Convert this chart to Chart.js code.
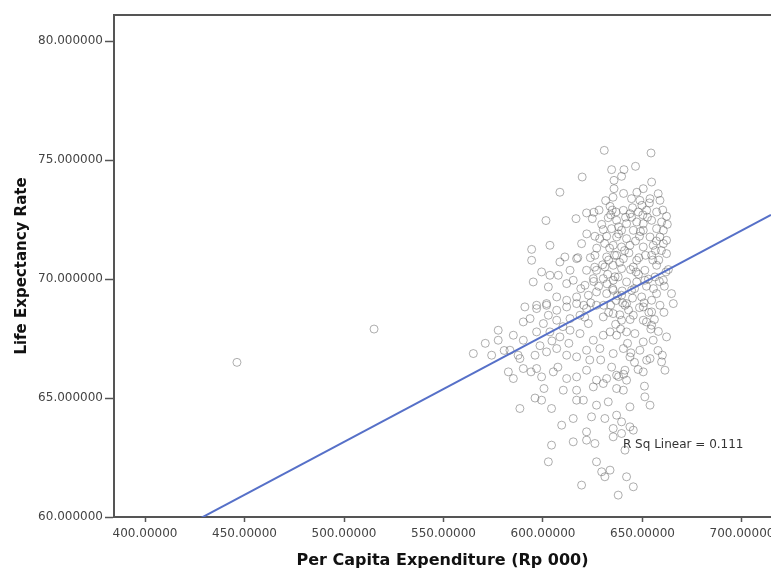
<!DOCTYPE html>
<html><head><meta charset="utf-8">
<script src="https://cdn.jsdelivr.net/npm/chart.js@4.4.1/dist/chart.umd.min.js"></script>
<style>html,body{margin:0;padding:0;background:#fff}#wrap{width:771px;height:570px;position:relative}</style>
</head><body><div id="wrap"><canvas id="c" width="771" height="570"></canvas></div>
<script>
// ---- data ----
const expenditure = [
446.2,515.1,
630.8,654.3,634.5,640.7,646.5,619.7,635.7,639.5,654.6,650.4,657.9,608.5,635.7,644.5,648.7,653.8,658.8,633.7,
636.7,640.4,643.7,647.9,652.1,657.1,662.1,601.5,616.6,621.9,625.6,624.8,632.8,637.0,642.0,647.1,650.4,654.6,
659.6,657.1,630.3,634.5,639.5,645.4,650.4,660.5,626.1,632.0,637.0,642.0,653.8,658.8,662.1,594.3,603.5,619.4,
635.3,639.5,643.7,650.4,655.4,660.5,594.3,608.5,611.0,616.9,626.1,632.0,637.0,640.4,647.1,654.6,662.1,599.3,
603.5,607.7,613.6,621.9,626.9,631.1,635.3,639.5,645.4,651.2,657.1,595.1,602.7,611.9,615.2,621.1,625.3,630.3,
635.3,637.8,642.0,647.1,651.2,656.3,660.5,590.9,596.8,601.8,606.9,611.9,616.9,622.8,626.9,632.0,635.3,639.5,
644.5,649.6,654.6,657.1,664.6,647.2,635.2,649.7,
596.8,601.8,606.9,611.9,616.9,621.9,626.9,642.0,650.4,654.6,658.8,665.5,
590.1,593.5,602.7,600.2,606.9,613.6,618.6,622.8,630.3,635.3,639.5,645.4,650.4,654.6,
577.5,577.5,585.1,590.1,596.8,603.5,608.5,613.6,618.6,625.3,630.3,633.7,637.0,642.0,646.2,650.4,655.4,662.1,
565.0,574.2,583.4,588.4,596.0,601.8,606.9,611.9,616.9,621.9,628.6,635.3,640.4,643.7,648.7,653.8,
582.6,585.1,590.1,596.8,599.3,605.2,611.9,616.9,621.9,626.9,632.0,637.0,641.2,642.0,650.4,652.1,659.6,661.3,
610.2,616.9,625.3,630.3,637.0,640.4,
588.4,599.3,604.3,616.9,620.3,626.9,632.8,643.7,651.2,653.8,
609.4,615.2,624.4,631.1,637.0,639.5,643.7,645.4,635.3,639.5,
604.3,615.2,621.9,621.9,626.1,635.3,641.2,
602.7,626.9,629.5,631.1,633.7,642.0,645.4,619.4,637.8,
633.5,636.0,638.5,641.0,644.0,646.5,632.5,635.0,637.5,640.0,643.0,630.5,628.0,633.0,636.5,639.0,645.0,648.0,
651.5,653.0,655.5,649.0,644.5,638.0,634.0,631.5,640.5,652.5,656.5,626.0,624.0,621.0,619.0,617.5,628.5,642.5,
646.0,634.5,638.0,640.5,629.0,623.5,613.0,610.0,604.5,598.5,594.0,587.5,580.5,571.0,600.5,596.0,607.5,648.5,
652.0,658.0,661.0,663.0,659.5,662.5,
629.5,631.0,633.0,634.8,636.2,638.0,639.8,641.5,643.2,645.0,646.8,648.5,650.2,652.0,653.5,655.2,657.0,658.5,660.2,661.8,
630.0,632.2,634.0,636.8,638.6,641.2,643.8,646.0,648.2,650.8,653.2,656.0,658.2,660.8,628.2,627.0,625.5,623.8,622.0,620.5,
644.2,647.8,651.0,654.2,657.8,660.0
];
const lifeExpectancy = [
66.5,67.9,
75.41,75.30,74.60,74.60,74.74,74.29,74.15,74.32,74.08,73.80,73.59,73.65,73.80,73.38,73.31,73.38,73.31,73.06,
72.82,72.89,72.75,72.82,72.89,72.82,72.64,72.46,72.54,72.78,72.81,72.54,72.58,72.47,72.33,72.40,72.33,72.47,
72.40,72.12,72.08,72.12,72.05,72.05,72.05,72.05,71.80,71.80,71.77,71.70,71.77,71.77,71.63,71.25,71.42,71.49,
71.42,71.35,71.42,71.35,71.42,71.49,70.79,70.72,70.93,70.86,71.00,70.93,71.00,70.86,70.79,71.00,71.07,70.30,
70.16,70.16,70.37,70.37,70.37,70.51,70.58,70.44,70.51,70.37,70.58,69.88,69.67,69.81,69.95,69.74,70.02,70.02,
69.95,70.09,69.88,69.88,69.95,70.09,69.95,68.83,68.90,68.97,69.25,69.11,69.25,69.32,69.46,69.39,69.53,69.32,
69.53,69.25,69.11,69.39,69.39,73.65,73.44,73.10,
68.76,68.90,68.69,68.83,68.97,68.76,68.90,68.97,68.83,68.62,68.90,68.97,
68.20,68.34,68.48,68.13,68.27,68.34,68.48,68.13,68.41,68.55,68.27,68.48,68.27,68.06,
67.85,67.43,67.64,67.43,67.78,67.78,67.57,67.85,67.71,67.43,67.64,67.78,67.64,67.78,67.71,67.36,67.43,67.57,
66.87,66.80,67.01,66.66,66.80,66.94,67.08,66.80,66.73,67.01,67.08,66.87,67.08,66.73,67.01,66.66,
66.10,65.82,66.24,66.24,65.89,66.10,65.82,65.89,66.17,65.75,65.82,65.96,66.17,65.75,66.10,66.59,66.52,66.17,
65.33,65.33,65.47,65.61,65.40,65.33,
64.56,64.91,64.56,64.91,64.91,64.70,64.84,64.63,65.05,64.70,
63.86,64.14,64.21,64.14,64.28,64.00,63.79,63.65,63.72,63.51,
63.02,63.16,63.58,63.23,63.09,63.37,62.81,
62.32,62.32,61.90,61.69,61.97,61.69,61.27,61.34,60.92,
71.3,71.0,70.7,71.2,70.4,71.6,70.2,69.6,69.3,69.0,68.7,68.9,69.7,68.6,68.1,67.9,69.2,70.2,
71.0,70.0,69.6,72.0,72.6,72.2,72.7,73.3,73.6,72.6,71.2,70.5,69.0,68.4,69.6,70.9,71.7,67.3,
66.5,66.3,65.9,66.0,66.6,66.6,67.3,68.0,67.4,67.2,66.1,66.8,67.0,67.3,65.4,65.0,66.3,68.8,
68.2,67.8,69.7,70.4,71.2,72.3,
72.3,71.5,70.8,72.9,70.1,71.9,69.5,72.6,71.1,73.0,70.3,71.8,72.7,69.7,73.2,70.8,71.6,69.9,72.9,70.3,
70.6,69.8,68.9,69.1,68.5,68.9,68.3,69.6,70.9,69.0,68.6,68.3,70.8,68.6,72.9,71.3,69.9,70.9,71.9,68.9,
66.9,66.2,65.5,67.9,67.0,66.8
];
const xTicks = [400, 450, 500, 550, 600, 650, 700];
const yTicks = [60, 65, 70, 75, 80];
const fitSlope = 0.04445;      // fit line
const fitIntercept = 40.93;
const rSqLabel = "R Sq Linear = 0.111";
const rSqAt = [640.2, 63.05];
const xTitle = "Per Capita Expenditure (Rp 000)";
const yTitle = "Life Expectancy Rate";
const X_MIN = 384.4, X_MAX = 714.6, Y_MIN = 60, Y_MAX = 81.1;

// ---- build chart ----
const points = expenditure.map((x, i) => ({x: x, y: lifeExpectancy[i]}));
const fitLine = [X_MIN, X_MAX].map(x => ({x: x, y: fitIntercept + fitSlope * x}));

const framePlugin = {
  id: 'frame',
  afterDraw(chart) {
    const {ctx, chartArea: a, scales} = chart;
    ctx.save();
    ctx.strokeStyle = '#555';
    ctx.lineWidth = 2;
    ctx.beginPath();
    ctx.moveTo(a.left - 1, a.top);
    ctx.lineTo(a.right + 2, a.top);
    ctx.stroke();
    ctx.fillStyle = '#333';
    ctx.font = '12px "DejaVu Sans"';
    ctx.textBaseline = 'middle';
    ctx.textAlign = 'left';
    ctx.fillText(rSqLabel, scales.x.getPixelForValue(rSqAt[0]), scales.y.getPixelForValue(rSqAt[1]));
    ctx.restore();
  }
};

Chart.defaults.font.family = '"DejaVu Sans", sans-serif';
new Chart(document.getElementById('c'), {
  data: {
    datasets: [
      {
        type: 'line', data: fitLine, borderColor: 'rgb(86,112,200)', borderWidth: 2,
        pointRadius: 0, fill: false, order: 0
      },
      {
        type: 'scatter', data: points, pointRadius: 4, pointBorderWidth: 1,
        pointBorderColor: 'rgba(95,95,95,0.5)', pointBackgroundColor: 'rgba(0,0,0,0)', order: 1
      }
    ]
  },
  options: {
    responsive: false, animation: false, devicePixelRatio: 1, events: [],
    layout: {autoPadding: false, padding: {top: 15, left: 0, right: 0, bottom: 0}},
    plugins: {legend: {display: false}, tooltip: {enabled: false}},
    scales: {
      x: {
        type: 'linear', position: 'bottom', min: X_MIN, max: X_MAX,
        afterBuildTicks: s => { s.ticks = xTicks.map(v => ({value: v})); },
        afterFit: s => { s.height = 53; s.paddingLeft = 0; s.paddingRight = 0; },
        ticks: {callback: v => Number(v).toFixed(5), font: {size: 12}, color: '#444', padding: 5, maxRotation: 0, autoSkip: false},
        grid: {drawOnChartArea: false, tickLength: 5, color: '#555', tickWidth: 1.5},
        border: {color: '#555', width: 2},
        title: {display: true, text: xTitle, color: '#111', font: {family: '"DejaVu Sans", sans-serif', size: 16, weight: 'bold'}, padding: {top: 0, bottom: 0}}
      },
      y: {
        type: 'linear', position: 'left', min: Y_MIN, max: Y_MAX,
        afterBuildTicks: s => { s.ticks = yTicks.map(v => ({value: v})); },
        afterFit: s => { s.width = 114; s.paddingTop = 0; s.paddingBottom = 0; },
        ticks: {callback: v => Number(v).toFixed(6), font: {size: 12}, color: '#444', padding: 2, autoSkip: false},
        grid: {drawOnChartArea: false, tickLength: 9, color: '#555', tickWidth: 1.5},
        border: {color: '#555', width: 2},
        title: {display: true, text: yTitle, color: '#111', font: {family: '"DejaVu Sans", sans-serif', size: 15, weight: 'bold'}, padding: {top: 13, bottom: 0}}
      }
    }
  },
  plugins: [framePlugin]
});
</script>
</body></html>
